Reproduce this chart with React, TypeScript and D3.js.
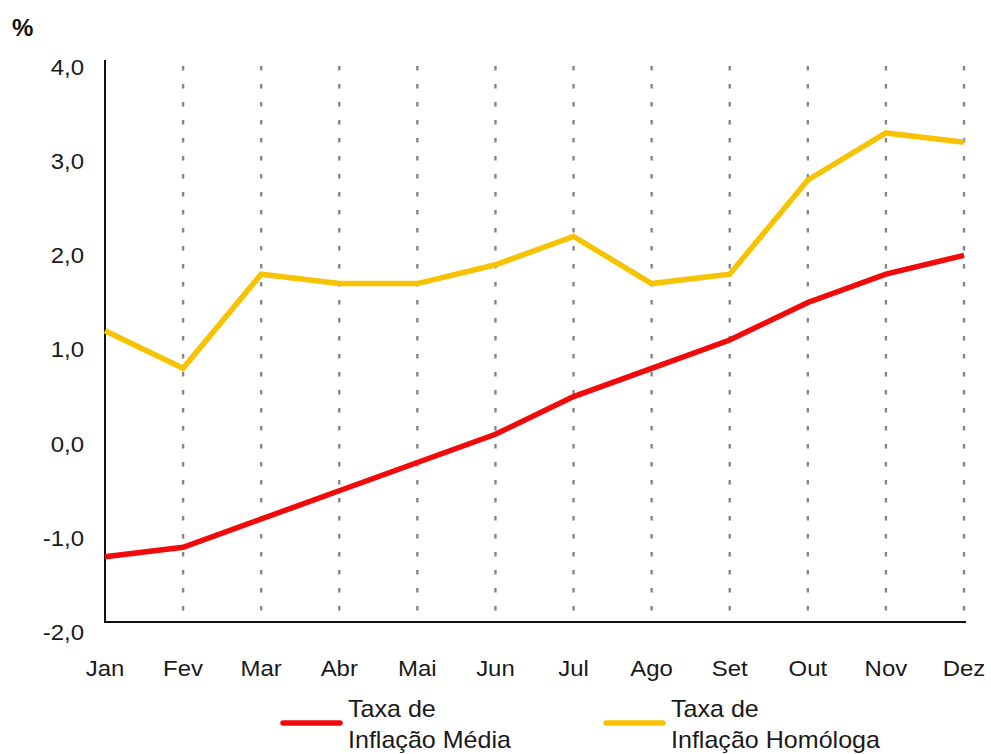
import React from "react";
import * as d3 from "d3";

const months = ["Jan", "Fev", "Mar", "Abr", "Mai", "Jun", "Jul", "Ago", "Set", "Out", "Nov", "Dez"];
const mediaValues = [-1.2, -1.1, -0.8, -0.5, -0.2, 0.1, 0.5, 0.8, 1.1, 1.5, 1.8, 2.0];
const homologaValues = [1.2, 0.8, 1.8, 1.7, 1.7, 1.9, 2.2, 1.7, 1.8, 2.8, 3.3, 3.2];
const yTicks = [4, 3, 2, 1, 0, -1, -2];
const seriesNames = [
  ["Taxa de", "Inflação Média"],
  ["Taxa de", "Inflação Homóloga"],
];

const W = 991;
const H = 754;
const FONT = "'Liberation Sans', Arial, sans-serif";
const RED = "#f20a0a";
const YELLOW = "#f7c300";
const SX = 1.09;

function T({ x, y, anchor = "start", size = 22, children, dy }: any) {
  return (
    <text
      transform={`translate(${x},${y}) scale(${SX},1)`}
      textAnchor={anchor}
      fontSize={size}
      dy={dy}
      fill="#1a1a1a"
    >
      {children}
    </text>
  );
}

export default function App() {
  const x = d3.scalePoint<string>().domain(months).range([105, 964]);
  const y = d3.scaleLinear().domain([-2, 4]).range([632, 67]);
  const frameTop = 60;
  const frameBottom = 622;

  const line = d3
    .line<number>()
    .x((_, i) => x(months[i]) as number)
    .y((d) => y(d));

  const fmt = (v: number) => v.toFixed(1).replace(".", ",");

  return (
    <svg
      width={W}
      height={H}
      style={{ position: "absolute", left: 0, top: 0, background: "#fff" }}
      fontFamily={FONT}
    >
      <rect width={W} height={H} fill="#fff" />
      <text x={12} y={36} fontSize={24} fontWeight="bold" fill="#111">
        %
      </text>
      {/* gridlines */}
      {months.slice(1).map((m) => (
        <line
          key={m}
          x1={x(m)}
          x2={x(m)}
          y1={frameTop + 6}
          y2={frameBottom}
          stroke="#878787"
          strokeWidth={2.4}
          strokeDasharray="4.5 13.5"
        />
      ))}
      {/* axes */}
      <line x1={105} x2={105} y1={frameTop} y2={frameBottom + 1} stroke="#111" strokeWidth={2} />
      <line x1={104} x2={966} y1={frameBottom} y2={frameBottom} stroke="#111" strokeWidth={2} />
      {/* y labels */}
      {yTicks.map((t) => (
        <T key={t} x={84} y={y(t)} dy="0.36em" anchor="end">
          {fmt(t)}
        </T>
      ))}
      {/* x labels */}
      {months.map((m) => (
        <T key={m} x={x(m)} y={676} anchor="middle">
          {m}
        </T>
      ))}
      {/* series */}
      <path d={line(homologaValues) || ""} fill="none" stroke={YELLOW} strokeWidth={5.5} strokeLinejoin="miter" />
      <path d={line(mediaValues) || ""} fill="none" stroke={RED} strokeWidth={5.5} strokeLinejoin="miter" />
      {/* legend */}
      {[RED, YELLOW].map((c, i) => {
        const lx = i === 0 ? 283 : 606;
        return (
          <g key={c}>
            <line x1={lx} x2={lx + 57} y1={723} y2={723} stroke={c} strokeWidth={5.5} strokeLinecap="round" />
            <T x={lx + 65} y={717} size={23}>
              {seriesNames[i][0]}
            </T>
            <T x={lx + 65} y={748} size={23}>
              {seriesNames[i][1]}
            </T>
          </g>
        );
      })}
    </svg>
  );
}
